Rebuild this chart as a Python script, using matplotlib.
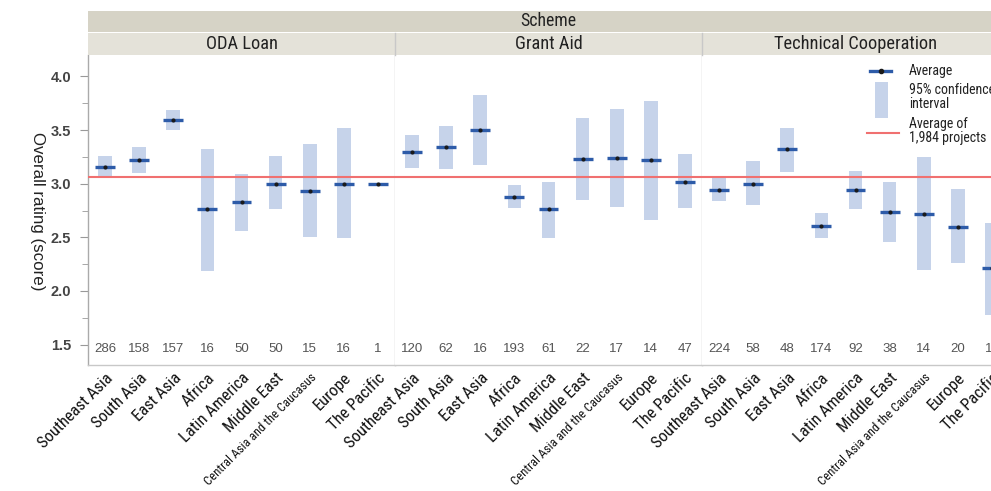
import matplotlib
matplotlib.use("Agg")
import matplotlib.pyplot as plt
from matplotlib.patches import Rectangle
from matplotlib.lines import Line2D
from matplotlib.ticker import MultipleLocator
import numpy as np

# ---- data -------------------------------------------------------------
regions = ["Southeast Asia", "South Asia", "East Asia", "Africa", "Latin America",
           "Middle East", "Central Asia and the Caucasus", "Europe", "The Pacific"]
schemes = ["ODA Loan", "Grant Aid", "Technical Cooperation"]

loan_avg = [3.16, 3.22, 3.59, 2.76, 2.83, 3.00, 2.93, 3.00, 3.00]
loan_lo = [3.07, 3.10, 3.50, 2.19, 2.56, 2.76, 2.50, 2.49, np.nan]
loan_hi = [3.26, 3.34, 3.69, 3.32, 3.09, 3.26, 3.37, 3.52, np.nan]
loan_n = [286, 158, 157, 16, 50, 50, 15, 16, 1]

grant_avg = [3.30, 3.34, 3.50, 2.88, 2.76, 3.23, 3.24, 3.22, 3.02]
grant_lo = [3.15, 3.14, 3.17, 2.77, 2.49, 2.85, 2.78, 2.66, 2.77]
grant_hi = [3.45, 3.54, 3.83, 2.99, 3.02, 3.61, 3.70, 3.77, 3.28]
grant_n = [120, 62, 16, 193, 61, 22, 17, 14, 47]

tc_avg = [2.94, 3.00, 3.32, 2.61, 2.94, 2.74, 2.72, 2.60, 2.21]
tc_lo = [2.84, 2.80, 3.11, 2.49, 2.76, 2.46, 2.20, 2.26, 1.78]
tc_hi = [3.05, 3.21, 3.52, 2.73, 3.12, 3.02, 3.25, 2.95, 2.63]
tc_n = [224, 58, 48, 174, 92, 38, 14, 20, 15]

overall_avg = 3.06
overall_label = "Average of\n1,984 projects"

y_ticks = [1.5, 2.0, 2.5, 3.0, 3.5, 4.0]

# ---- style ------------------------------------------------------------
NARROW = ["Roboto Condensed", "DejaVu Sans"]
NARROW_KW = dict(family=NARROW, fontstretch="condensed")
PLAIN = ["Liberation Sans", "DejaVu Sans"]
CI_COLOR = "#c6d3ea"
AVG_COLOR = "#2d5ba8"
REF_COLOR = "#f07070"
STRIP_TOP = "#d6d3c6"
STRIP_PANEL = "#e4e2d9"
DIVIDER = "#c8c8c8"

W, H = 991, 491
fig = plt.figure(figsize=(W / 100, H / 100), dpi=100)


def fx(px):
    return px / W


def fy(py):
    return 1 - py / H


plot_left, panel_w = 88, 307
plot_top, plot_bot = 55, 365

series = [(loan_avg, loan_lo, loan_hi, loan_n),
          (grant_avg, grant_lo, grant_hi, grant_n),
          (tc_avg, tc_lo, tc_hi, tc_n)]

x = np.arange(len(regions))
axes = []
for i, (avg, lo, hi, n) in enumerate(series):
    left = plot_left + i * panel_w
    ax = fig.add_axes([fx(left), fy(plot_bot), panel_w / W, (plot_bot - plot_top) / H])
    axes.append(ax)
    lo_a, hi_a = np.array(lo, float), np.array(hi, float)
    ax.bar(x, hi_a - lo_a, bottom=lo_a, width=0.40, color=CI_COLOR, zorder=2)
    ax.axhline(overall_avg, color=REF_COLOR, lw=1.5, zorder=3)
    ax.errorbar(x, avg, xerr=0.29, fmt="none", ecolor=AVG_COLOR, elinewidth=2.4,
                capsize=0, zorder=4)
    ax.scatter(x, avg, s=9, color="#1a1a1a", zorder=5, linewidths=0)
    for xi, ni in zip(x, n):
        ax.text(xi, 0.052, str(ni), transform=ax.get_xaxis_transform(),
                ha="center", va="center", fontsize=9.5, color="#555555",
                family=PLAIN)
    ax.set_xlim(-0.5, len(regions) - 0.5)
    ax.set_ylim(1.31, 4.2)
    ax.set_xticks(x)
    ax.set_xticklabels(regions, rotation=45, ha="right", rotation_mode="anchor",
                       fontsize=12, color="#111111", **NARROW_KW)
    for lab in ax.get_xticklabels():
        if len(lab.get_text()) > 20:
            lab.set_fontsize(9.1)
    ax.tick_params(axis="x", length=0, pad=4)
    ax.yaxis.set_major_locator(MultipleLocator(0.5))
    ax.yaxis.set_minor_locator(MultipleLocator(0.25))
    ax.spines["top"].set_visible(False)
    for s in ("left", "right", "bottom"):
        ax.spines[s].set_color(DIVIDER)
        ax.spines[s].set_linewidth(1.0)
    if i == 0:
        ax.set_yticks(y_ticks)
        ax.set_yticklabels([f"{t:.1f}" for t in y_ticks], fontsize=10.5,
                           fontweight="bold", color="#444444", family=PLAIN)
        ax.tick_params(axis="y", which="major", length=6, color="#999999", pad=6)
        ax.tick_params(axis="y", which="minor", length=4, color="#999999")
        ax.spines["left"].set_color("#aaaaaa")
    else:
        ax.tick_params(axis="y", which="both", left=False, labelleft=False)
        ax.spines["left"].set_visible(False)

# ---- facet strips -----------------------------------------------------
fig.add_artist(Rectangle((fx(plot_left), fy(32)), 1 - fx(plot_left), (32 - 11) / H,
                         transform=fig.transFigure, color=STRIP_TOP, lw=0))
fig.text(fx(plot_left + 1.5 * panel_w), fy(21.5), "Scheme", ha="center", va="center",
         fontsize=12.8, color="#222222", **NARROW_KW)
for i, name in enumerate(schemes):
    left = plot_left + i * panel_w
    fig.add_artist(Rectangle((fx(left), fy(55)), panel_w / W, (55 - 33) / H,
                             transform=fig.transFigure, color=STRIP_PANEL, lw=0))
    if i > 0:
        fig.add_artist(Line2D([fx(left), fx(left)], [fy(33), fy(55)],
                              transform=fig.transFigure, color=DIVIDER, lw=1))
    fig.text(fx(left + panel_w / 2), fy(44), name, ha="center", va="center",
             fontsize=13.2, color="#222222", **NARROW_KW)

# ---- y label ----------------------------------------------------------
fig.text(fx(37), fy(211), "Overall rating (score)", rotation=270, ha="center",
         va="center", fontsize=12.2, family=PLAIN, color="#222222")

# ---- legend (inside the last panel) -----------------------------------
lg = axes[2]
tr = lg.transAxes


def ax_x(px):
    return (px - (plot_left + 2 * panel_w)) / panel_w


def ax_y(py):
    return (plot_bot - py) / (plot_bot - plot_top)


lg.add_line(Line2D([ax_x(870), ax_x(891)], [ax_y(70.5)] * 2, transform=tr,
                   color=AVG_COLOR, lw=2.4, zorder=6))
lg.add_line(Line2D([ax_x(880.5)], [ax_y(70.5)], transform=tr, marker="o",
                   markersize=3, color="#1a1a1a", zorder=7))
lg.add_patch(Rectangle((ax_x(875), ax_y(118)), ax_x(888) - ax_x(875),
                       ax_y(82) - ax_y(118), transform=tr, color=CI_COLOR, lw=0,
                       zorder=6))
lg.add_line(Line2D([ax_x(867), ax_x(899)], [ax_y(133)] * 2, transform=tr,
                   color=REF_COLOR, lw=1.5, zorder=6))
for txt, py in [("Average", 70.5), ("95% confidence\ninterval", 97.5),
                (overall_label, 131)]:
    lg.text(ax_x(909), ax_y(py), txt, transform=tr, ha="left", va="center",
            fontsize=10, color="#222222", linespacing=1.0, zorder=7,
            **NARROW_KW)

fig.savefig("out.png", dpi=100)
